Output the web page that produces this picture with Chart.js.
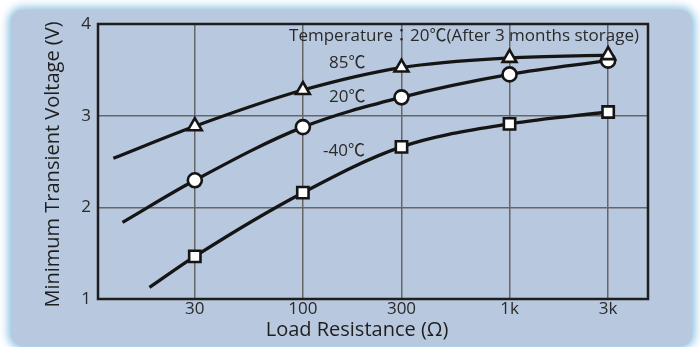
<!DOCTYPE html>
<html>
<head>
<meta charset="utf-8">
<script src="https://cdn.jsdelivr.net/npm/chart.js@4.4.1/dist/chart.umd.min.js"></script>
<style>
  html, body { margin: 0; padding: 0; background: #fff; }
  #wrap { position: relative; width: 700px; height: 347px; overflow: hidden; }
  #panel { position: absolute; left: 11px; top: 10px; width: 681px; height: 336px; border-radius: 12px;
           background: #b8c8de; box-shadow: 0 0 9px 3px rgba(120, 185, 222, .85); }
  canvas { position: absolute; left: 0; top: 0; }
</style>
</head>
<body>
<div id="wrap"><div id="panel"></div><canvas id="chart" width="700" height="347"></canvas></div>
<script>
const tickLoads = [30, 100, 300, 1000, 3000];
const tickLabels = ['30', '100', '300', '1k', '3k'];
const voltTicks = [1, 2, 3, 4];

const loads85 = [12.1, 30, 100, 300, 1000, 3000];
const volts85 = [2.535, 2.885, 3.28, 3.525, 3.63, 3.66];
const loads20 = [13.4, 30, 100, 300, 1000, 3000];
const volts20 = [1.836, 2.295, 2.875, 3.2, 3.45, 3.6];
const loadsM40 = [18.1, 30, 100, 300, 1000, 3000];
const voltsM40 = [1.126, 1.465, 2.16, 2.66, 2.91, 3.04];

const seriesNames = ['85℃', '20℃', '-40℃'];
const nameLoads = [164, 164, 158];
const nameVolts = [3.574, 3.202, 2.612];
const noteText = 'Temperature：20℃(After 3 months storage)';

const FONT = '"Open Sans", "Noto Sans CJK JP", "DejaVu Sans", sans-serif';

function points(xs, ys) {
  return xs.map((x, i) => ({ x, y: ys[i] }));
}

function series(label, xs, ys, style, radius) {
  return {
    label,
    data: points(xs, ys),
    borderColor: '#151515',
    borderWidth: 3.3,
    cubicInterpolationMode: 'monotone',
    pointStyle: style,
    pointRadius: xs.map((x, i) => i === 0 ? 0 : radius),
    pointBackgroundColor: '#fff',
    pointBorderColor: '#151515',
    pointBorderWidth: 2.6
  };
}

const decorations = {
  id: 'decorations',
  afterDatasetsDraw(chart) {
    const { ctx, chartArea: a, scales: { x, y } } = chart;
    ctx.save();
    ctx.strokeStyle = '#1e1e1e';
    ctx.lineWidth = 2.5;
    ctx.strokeRect(a.left, a.top, a.right - a.left, a.bottom - a.top);

    ctx.fillStyle = '#2a2a2a';
    ctx.textBaseline = 'middle';
    ctx.font = `17px ${FONT}`;
    ctx.textAlign = 'center';
    seriesNames.forEach((name, i) => {
      ctx.fillText(name, x.getPixelForValue(nameLoads[i]), y.getPixelForValue(nameVolts[i]));
    });
    ctx.textAlign = 'right';
    ctx.fillText(noteText, a.right - 9, a.top + 12);

    ctx.fillStyle = '#1e1e1e';
    ctx.font = `20px ${FONT}`;
    ctx.textAlign = 'center';
    ctx.fillText('Load Resistance (Ω)', 357, 330);
    ctx.translate(53, (a.top + a.bottom) / 2 + 3);
    ctx.rotate(-Math.PI / 2);
    ctx.fillText('Minimum Transient Voltage (V)', 0, 0);
    ctx.restore();
  }
};

new Chart(document.getElementById('chart'), {
  type: 'line',
  data: {
    datasets: [
      series('85℃', loads85, volts85, 'triangle', 8),
      series('20℃', loads20, volts20, 'circle', 7),
      series('-40℃', loadsM40, voltsM40, 'rect', 8)
    ]
  },
  options: {
    responsive: false,
    animation: false,
    layout: { padding: { left: 10, right: 52, top: 24, bottom: 0 } },
    plugins: { legend: { display: false }, tooltip: { enabled: false } },
    scales: {
      x: {
        type: 'logarithmic',
        min: 10.2,
        max: 4677,
        afterBuildTicks(scale) { scale.ticks = tickLoads.map((v) => ({ value: v })); },
        afterFit(scale) { scale.height = 48; },
        ticks: {
          autoSkip: false,
          maxRotation: 0,
          padding: 0,
          color: '#2a2a2a',
          font: { family: FONT, size: 17 },
          callback: (v) => tickLabels[tickLoads.indexOf(v)]
        },
        grid: { color: '#666', lineWidth: 1.5, drawTicks: false },
        border: { display: false }
      },
      y: {
        min: 1,
        max: 4,
        afterBuildTicks(scale) { scale.ticks = voltTicks.map((v) => ({ value: v })); },
        afterFit(scale) { scale.width = 88; },
        ticks: {
          padding: 7,
          color: '#2a2a2a',
          font: { family: FONT, size: 17 }
        },
        grid: { color: '#666', lineWidth: 1.5, drawTicks: false },
        border: { display: false }
      }
    }
  },
  plugins: [decorations]
});
</script>
</body>
</html>
